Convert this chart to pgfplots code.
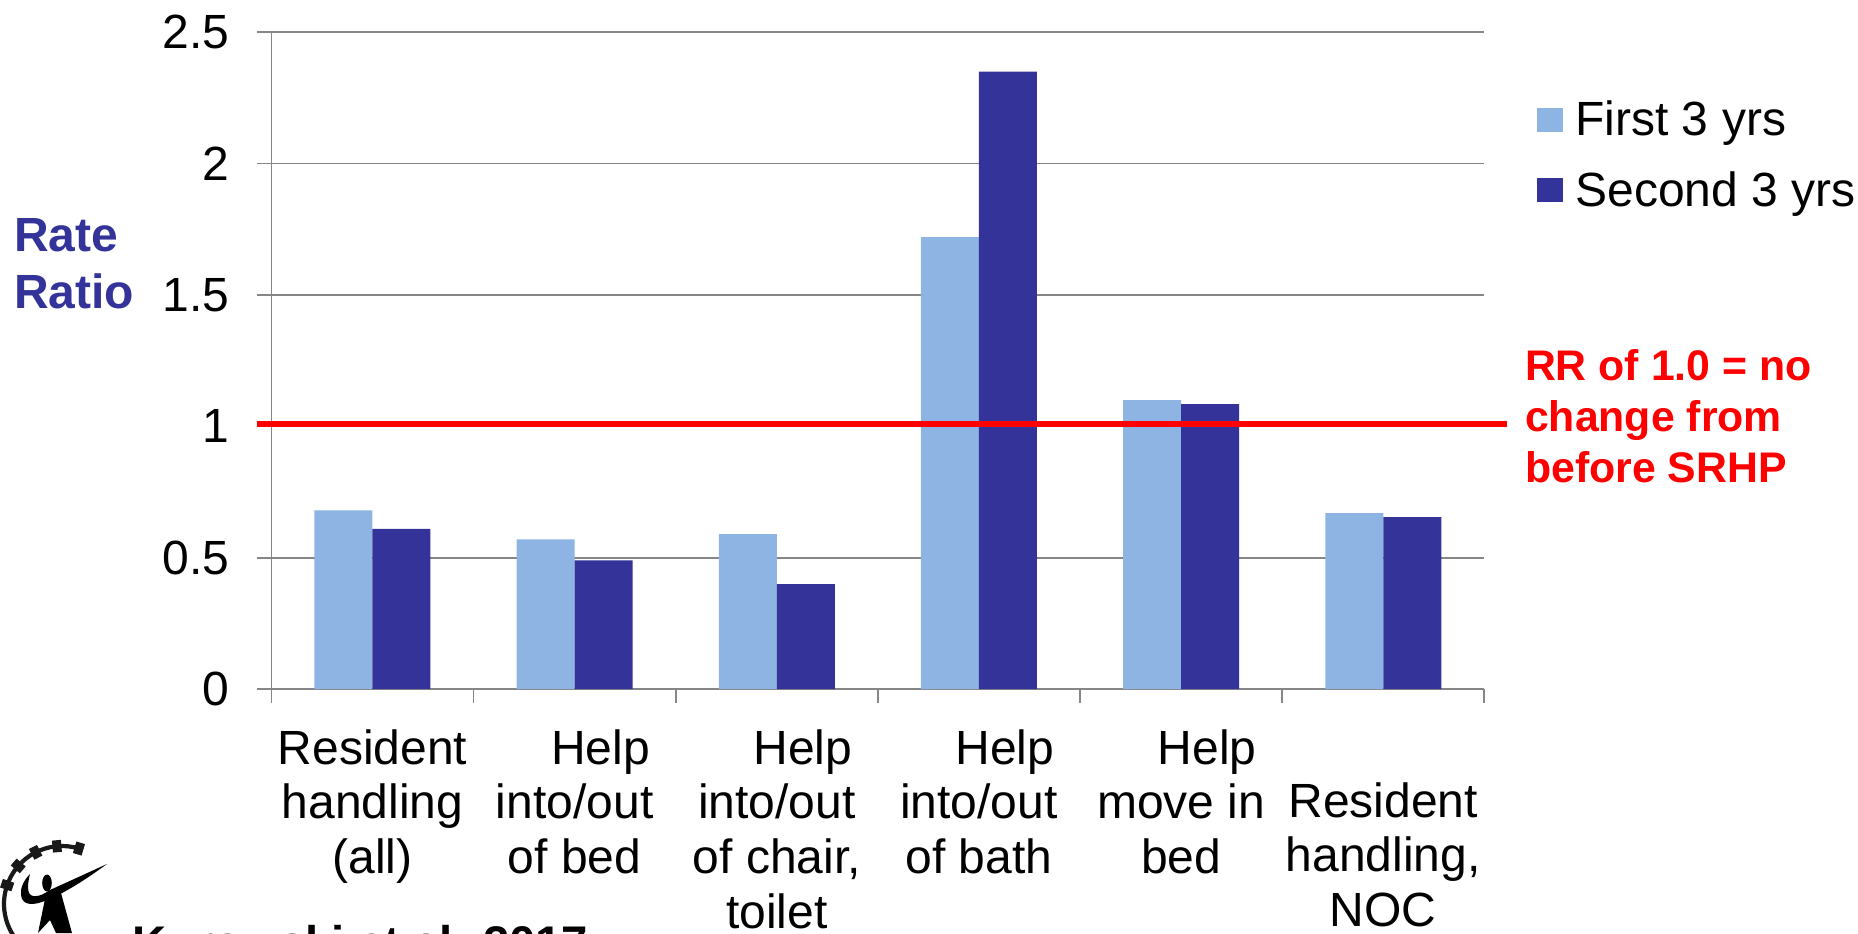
\documentclass[border=0pt]{standalone}
\usepackage{fontspec}
\setmainfont{Liberation Sans}
\usepackage{pgfplots}
\pgfplotsset{compat=1.18}
\definecolor{lightbar}{HTML}{8EB4E3}
\definecolor{darkbar}{HTML}{333399}
\definecolor{gridgray}{HTML}{868686}
\newcommand{\hh}{\hspace*{26pt}Help}
\begin{document}
\begin{tikzpicture}
\clip (0,0) rectangle (929pt,466.5pt);
\begin{axis}[
  at={(135.7pt,121.9pt)}, anchor=south west,
  scale only axis, width=606.5pt, height=328.5pt,
  xmin=-0.5, xmax=5.5, ymin=0, ymax=2.5,
  ybar, bar width=29pt, bar shift=0pt,
  clip=false,
  axis line style={gridgray, line width=0.9pt},
  axis x line*=bottom, axis y line*=left,
  axis line style={-},
  xtick={0,1,2,3,4,5},
  xticklabels={
    {Resident\\handling\\(all)},
    {\hh\\into/out\\of bed},
    {\hh\\into/out\\of chair,\\toilet},
    {\hh\\into/out\\of bath},
    {\hh\\move in\\bed},
    {\vphantom{H}\\Resident\\handling,\\NOC}},
  major x tick style={draw=none},
  minor xtick={-0.5,0.5,1.5,2.5,3.5,4.5,5.5},
  minor x tick style={gridgray, line width=0.9pt},
  minor tick length=7pt,
  tick align=outside,
  xticklabel style={align=center, anchor=north, yshift=-9.6pt,
    font=\fontsize{24}{27.3}\selectfont},
  ytick={0,0.5,1,1.5,2,2.5},
  yticklabels={0,0.5,1,1.5,2,2.5},
  major y tick style={gridgray, line width=0.9pt},
  major tick length=7pt,
  ymajorgrids, grid style={gridgray, line width=0.9pt},
  yticklabel style={font=\fontsize{24}{27.3}\selectfont, xshift=-10.6pt},
  legend style={at={(1.0384,0.908)}, anchor=north west, draw=none, fill=none,
    font=\fontsize{24}{27.3}\selectfont, row sep=12.3pt},
  legend cell align=left,
  legend image code/.code={\fill[#1] (0pt,-6pt) rectangle (12.8pt,6pt);
    \path (17pt,0pt);},
]
\addplot[fill=lightbar, draw=none, bar shift=-14.5pt] coordinates
  {(0,0.68) (1,0.57) (2,0.59) (3,1.72) (4,1.10) (5,0.67)};
\addlegendentry{First 3 yrs}
\addplot[fill=darkbar, draw=none, bar shift=14.5pt] coordinates
  {(0,0.61) (1,0.49) (2,0.40) (3,2.35) (4,1.085) (5,0.655)};
\addlegendentry{Second 3 yrs}
% reference level: a rate ratio of one means no change
\addplot[sharp plot, forget plot, red, line width=3pt, yshift=1.4pt] coordinates
  {(-0.57,1) (5.61,1)};
\end{axis}
\begin{scope}[shift={(0,466.5pt)}, x=0.5pt, y=-0.5pt]
  % axis caption, annotation and citation
  \node[anchor=west, align=left, text=darkbar, font=\fontsize{24}{28.4}\selectfont\bfseries]
    at (7,264) {Rate\\Ratio};
  \node[anchor=west, align=left, text=red, font=\fontsize{21.4}{25.4}\selectfont\bfseries]
    at (1518,416) {RR of 1.0 = no\\change from\\before SRHP};
  \node[anchor=base west, font=\fontsize{23.6}{28}\selectfont\bfseries]
    at (125.5,959) {Kurowski et al. 2017};
  % logo: gear rim with teeth and a figure reaching out
  \draw[black!90, line width=2.1pt] (62,904) ++(-73:58) arc[start angle=-73, end angle=-235, radius=58];
  \foreach \a in {73,95,117,139,161}
    \fill[black!90, shift={(62,904)}, rotate=\a-90] (-4.5,-64) rectangle (4.5,-52);
  % swoosh arm, from the far hand round to the near hand
  \fill[black] (107,864) -- (50,890) .. controls (44,894) and (40,896) .. (36,896)
    .. controls (28,897) and (26,890) .. (30,874)
    .. controls (24,880) and (20,888) .. (21,895)
    .. controls (22,904) and (30,906) .. (42,902)
    .. controls (62,895) and (85,880) .. (107,864) -- cycle;
  \fill[black] (47,883) ellipse[x radius=4.8, y radius=8.5];
  % torso and legs
  \fill[black] (45,899) -- (61,893) -- (72,933) -- (56,933) -- (50,920) -- (38,933) -- cycle;
\end{scope}
\end{tikzpicture}
\end{document}
